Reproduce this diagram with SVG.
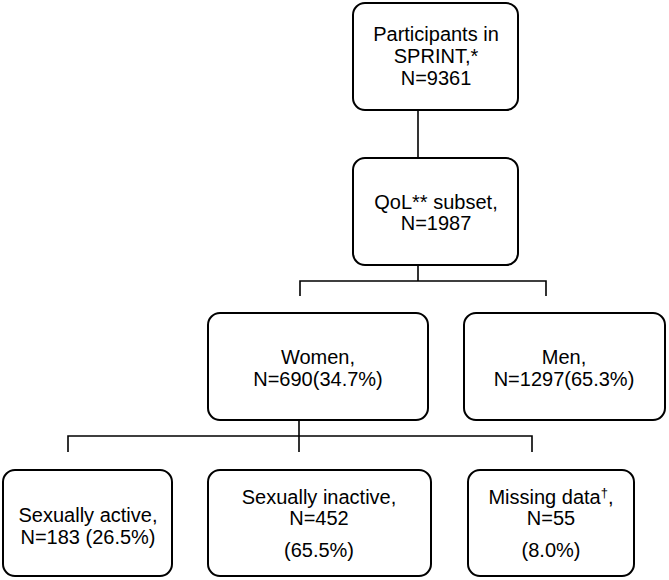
<svg xmlns="http://www.w3.org/2000/svg" width="669" height="580" viewBox="0 0 669 580">
<style>
.box{fill:#fff;stroke:#000;stroke-width:2}
.t{font-family:"Liberation Sans",Arial,sans-serif;font-size:20px;fill:#000;text-anchor:middle}
.c{fill:none;stroke:#000;stroke-width:1.6}
</style>
<rect width="669" height="580" fill="#fff"/>
<g id="connectors">
<path class="c" d="M418 110V158"/>
<path class="c" d="M418 265V281M300 296V281H546V296"/>
<path class="c" d="M299 420V452M68 452V436H532V452"/>
</g>
<g id="n1"><rect class="box" x="353" y="3" width="165" height="107" rx="12"/>
<text class="t" x="436" y="41">Participants in</text><text class="t" x="436" y="63">SPRINT,*</text><text class="t" x="436" y="85">N=9361</text></g>
<g id="n2"><rect class="box" x="353" y="158" width="165" height="107" rx="12"/>
<text class="t" x="436" y="209">QoL** subset,</text><text class="t" x="436" y="230">N=1987</text></g>
<g id="n3"><rect class="box" x="208" y="313" width="220" height="107" rx="12"/>
<text class="t" x="318" y="364">Women,</text><text class="t" x="318" y="386">N=690(34.7%)</text></g>
<g id="n4"><rect class="box" x="464" y="313" width="201" height="107" rx="12"/>
<text class="t" x="564" y="364">Men,</text><text class="t" x="564" y="386">N=1297(65.3%)</text></g>
<g id="n5"><rect class="box" x="3" y="470" width="169" height="106" rx="12"/>
<text class="t" x="88" y="522">Sexually active,</text><text class="t" x="88" y="544">N=183 (26.5%)</text></g>
<g id="n6"><rect class="box" x="208" y="470" width="223" height="106" rx="12"/>
<text class="t" x="319" y="504">Sexually inactive,</text><text class="t" x="319" y="525">N=452</text><text class="t" x="319" y="557">(65.5%)</text></g>
<g id="n7"><rect class="box" x="468" y="470" width="166" height="106" rx="12"/>
<text class="t" x="551" y="504">Missing data<tspan font-size="13" dy="-7">†</tspan><tspan dy="7">,</tspan></text><text class="t" x="551" y="525">N=55</text><text class="t" x="551" y="557">(8.0%)</text></g>
</svg>
